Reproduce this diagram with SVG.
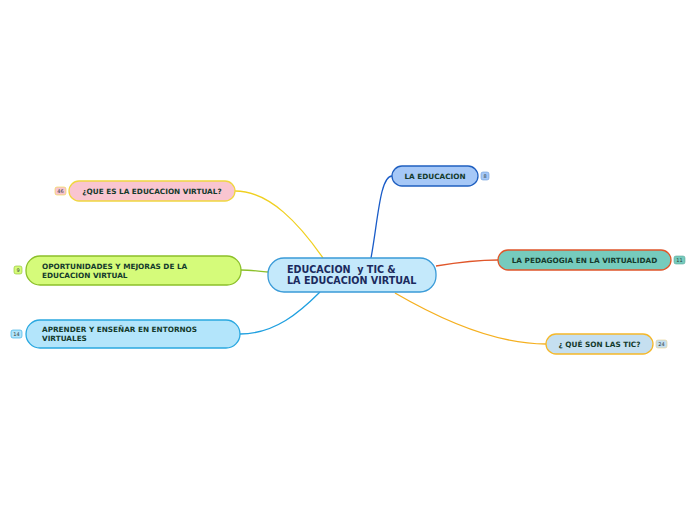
<svg xmlns="http://www.w3.org/2000/svg" width="696" height="520" viewBox="0 0 696 520">
<style>
.t{font-family:"DejaVu Sans",Verdana,sans-serif;font-weight:bold;font-size:7.3px;fill:#143a2c}
.c{font-family:"DejaVu Sans",Verdana,sans-serif;font-weight:bold;font-size:9.6px;fill:#1b2b5e;white-space:pre}
.b{font-family:"DejaVu Sans",Verdana,sans-serif;font-size:5px;fill:#2a3a3a;text-anchor:middle}
.n{stroke-width:1.3}
.e{fill:none;stroke-width:1.3}
</style>
<rect width="696" height="520" fill="#ffffff"/>
<g id="connectors">
<path class="e" stroke="#1a5cc8" d="M371,258 C378,220 380,176 392,176"/>
<path class="e" stroke="#e0562a" d="M436,266 C460,262 475,260 498,260"/>
<path class="e" stroke="#f5b020" d="M395,293 C450,325 500,344 546,344"/>
<path class="e" stroke="#f0d020" d="M323,258 C300,225 270,191 235,191"/>
<path class="e" stroke="#8cc02a" d="M268,272 C258,271 250,270 241,270"/>
<path class="e" stroke="#20a0e0" d="M320,292 C300,312 275,334 240,334"/>
</g>
<g id="central">
<rect class="n" x="268" y="258" width="168" height="34" rx="16" fill="#c4e9fb" stroke="#3a9bd8"/>
<text class="c" x="287" y="273" xml:space="preserve">EDUCACION  y TIC &amp;</text>
<text class="c" x="287" y="284">LA EDUCACION VIRTUAL</text>
</g>
<g id="n-educacion">
<rect class="n" x="392" y="166" width="86" height="20" rx="10" fill="#a6c8f7" stroke="#1f5fc0"/>
<text class="t" x="435" y="179" text-anchor="middle">LA EDUCACION</text>
<rect x="481" y="172" width="8" height="8" rx="2" fill="#a6c8f7" stroke="#6a9ad8" stroke-width="0.6"/>
<text class="b" x="485" y="178">8</text>
</g>
<g id="n-pedagogia">
<rect class="n" x="498" y="250" width="173" height="20" rx="10" fill="#76cbbd" stroke="#e0562a"/>
<text class="t" x="584.5" y="263" text-anchor="middle">LA PEDAGOGIA EN LA VIRTUALIDAD</text>
<rect x="674" y="256" width="11" height="8" rx="2" fill="#76cbbd" stroke="#5aa89a" stroke-width="0.6"/>
<text class="b" x="679.5" y="262">11</text>
</g>
<g id="n-tic">
<rect class="n" x="546" y="334" width="107" height="20" rx="10" fill="#c5dff0" stroke="#f5b82a"/>
<text class="t" x="599.5" y="347" text-anchor="middle">¿ QUÉ SON LAS TIC?</text>
<rect x="656" y="340" width="11" height="8" rx="2" fill="#c5dff0" stroke="#e8d08a" stroke-width="0.6"/>
<text class="b" x="661.5" y="346">24</text>
</g>
<g id="n-quees">
<rect class="n" x="69" y="181" width="166" height="20" rx="10" fill="#f9c5d0" stroke="#f0d640"/>
<text class="t" x="152" y="194" text-anchor="middle">¿QUE ES LA EDUCACION VIRTUAL?</text>
<rect x="55" y="187" width="11" height="8" rx="2" fill="#f9c5d0" stroke="#f0d640" stroke-width="0.6"/>
<text class="b" x="60.5" y="193">46</text>
</g>
<g id="n-oportunidades">
<rect class="n" x="26" y="256" width="215" height="29" rx="14" fill="#d5fb7a" stroke="#8cc02a"/>
<text class="t" x="42" y="269">OPORTUNIDADES Y MEJORAS DE LA</text>
<text class="t" x="42" y="278">EDUCACION VIRTUAL</text>
<rect x="14" y="266" width="8" height="8" rx="2" fill="#d5fb7a" stroke="#8cc02a" stroke-width="0.6"/>
<text class="b" x="18" y="272">9</text>
</g>
<g id="n-aprender">
<rect class="n" x="26" y="320" width="214" height="28" rx="14" fill="#b3e5fb" stroke="#2aa8e0"/>
<text class="t" x="42" y="332">APRENDER Y ENSEÑAR EN ENTORNOS</text>
<text class="t" x="42" y="341">VIRTUALES</text>
<rect x="11" y="330" width="11" height="8" rx="2" fill="#b3e5fb" stroke="#2aa8e0" stroke-width="0.6"/>
<text class="b" x="16.5" y="336">14</text>
</g>
</svg>
